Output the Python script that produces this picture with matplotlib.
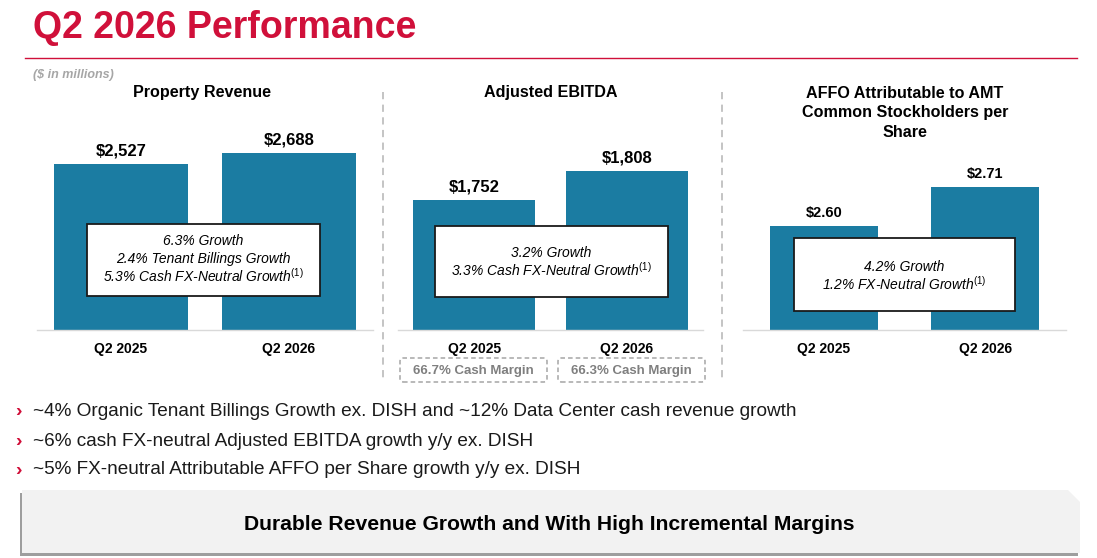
import matplotlib
matplotlib.use("Agg")
import matplotlib.pyplot as plt
from matplotlib.patches import Rectangle, FancyBboxPatch, Polygon
from matplotlib.lines import Line2D

plt.rcParams['font.family'] = ['Liberation Sans', 'DejaVu Sans']
plt.rcParams['mathtext.fontset'] = 'custom'
plt.rcParams['mathtext.rm'] = 'Liberation Sans'
plt.rcParams['mathtext.it'] = 'Liberation Sans:italic'
plt.rcParams['mathtext.bf'] = 'Liberation Sans:bold'

# ---------------- data ----------------
title = "Q2 2026 Performance"
units_note = "($ in millions)"
categories = ["Q2 2025", "Q2 2026"]
panel_titles = ["Property Revenue", "Adjusted EBITDA",
                "AFFO Attributable to AMT\nCommon Stockholders per\nShare"]
property_revenue = [2527, 2688]
adjusted_ebitda = [1752, 1808]
affo_per_share = [2.60, 2.71]
revenue_growth = ["6.3% Growth", "2.4% Tenant Billings Growth",
                  "5.3% Cash FX-Neutral Growth$^{(1)}$"]
ebitda_growth = ["3.2% Growth", "3.3% Cash FX-Neutral Growth$^{(1)}$"]
affo_growth = ["4.2% Growth", "1.2% FX-Neutral Growth$^{(1)}$"]
cash_margins = ["66.7% Cash Margin", "66.3% Cash Margin"]
bullets = ["~4% Organic Tenant Billings Growth ex. DISH and ~12% Data Center cash revenue growth",
           "~6% cash FX-neutral Adjusted EBITDA growth y/y ex. DISH",
           "~5% FX-neutral Attributable AFFO per Share growth y/y ex. DISH"]
banner = "Durable Revenue Growth and With High Incremental Margins"

# ---------------- style ----------------
W, H = 1097, 558
BAR = "#1B7CA2"
RED = "#D0103A"
GRID = "#D9D9D9"

fig = plt.figure(figsize=(W / 100, H / 100), dpi=100)
fig.patch.set_facecolor("white")
T = fig.dpi_scale_trans


def P(x, y):
    return (x / 100, (H - y) / 100)


def ftext(x, y, s, **kw):
    kw.setdefault("ha", "center")
    kw.setdefault("va", "center")
    return fig.text(*P(x, y), s, transform=T, **kw)


def add_axes(x0, x1, ytop, ybot):
    return fig.add_axes([x0 / W, 1 - ybot / H, (x1 - x0) / W, (ybot - ytop) / H])


# title + rule
ftext(33, 28, title, ha="left", fontsize=27, fontweight="bold", color=RED)
fig.add_artist(Line2D([25 / 100, 1077 / 100], [(H - 58) / 100] * 2, transform=T,
                      color=RED, lw=1.0))
ftext(33, 75, units_note, ha="left", fontsize=9, fontstyle="italic",
      fontweight="bold", color="#A6A6A6")

# panels
panels = [
    dict(vals=property_revenue, box=(37, 373), ylim=(0, 4110), width=0.8,
         fmt=lambda v: f"${v:,}", lsize=12, title_xy=(202, 92),
         gbox=(87, 320, 224, 296), glines=revenue_growth, gys=[241, 258.5, 276]),
    dict(vals=adjusted_ebitda, box=(398, 703), ylim=(1501, 2022), width=0.8,
         fmt=lambda v: f"${v:,}", lsize=12, title_xy=(551, 93),
         gbox=(435, 668, 226, 297), glines=ebitda_growth, gys=[253, 270]),
    dict(vals=affo_per_share, box=(743, 1066), ylim=(2.307, 3.069), width=0.67,
         fmt=lambda v: f"${v:.2f}", lsize=10.5, title_xy=(905, 113),
         gbox=(794, 1015, 238, 311), glines=affo_growth, gys=[267, 284]),
]

for i, p in enumerate(panels):
    ax = add_axes(p["box"][0], p["box"][1], 60, 330)
    ax.bar(range(len(categories)), [v - p["ylim"][0] for v in p["vals"]],
           bottom=p["ylim"][0], width=p["width"], color=BAR)
    ax.set_xlim(-0.5, 1.5)
    ax.set_ylim(*p["ylim"])
    for s in ("top", "right", "left"):
        ax.spines[s].set_visible(False)
    ax.spines["bottom"].set_color(GRID)
    ax.spines["bottom"].set_linewidth(1.0)
    ax.set_yticks([])
    ax.set_xticks(range(len(categories)))
    ax.set_xticklabels(categories, fontsize=10, fontweight="bold")
    ax.tick_params(axis="x", length=0, pad=9)
    ax.patch.set_alpha(0)
    for j, v in enumerate(p["vals"]):
        ax.annotate(p["fmt"](v), xy=(j, v), xytext=(0, 9.5), textcoords="offset points",
                    ha="center", va="center", fontsize=p["lsize"], fontweight="bold")
    # panel title
    ftext(*p["title_xy"], panel_titles[i], fontsize=11.6, fontweight="bold",
          linespacing=1.4)
    # growth box
    x0, x1, y0, y1 = p["gbox"]
    fig.add_artist(Rectangle(P(x0, y1), (x1 - x0) / 100, (y1 - y0) / 100, transform=T,
                             facecolor="white", edgecolor="#1A1A1A", lw=1.3, zorder=5))
    cx = (x0 + x1) / 2
    for line, yy in zip(p["glines"], p["gys"]):
        ftext(cx, yy, line, fontsize=10, fontstyle="italic", zorder=6)

# dashed separators
for xs in (383, 722):
    fig.add_artist(Line2D([xs / 100] * 2, [(H - 92) / 100, (H - 380) / 100], transform=T,
                          color="#BFBFBF", lw=1.3, ls=(0, (4, 3))))

# cash margin boxes
for (x0, x1), txt in zip([(400, 547), (558, 705)], cash_margins):
    fig.add_artist(FancyBboxPatch(P(x0 + 2, 380), (x1 - x0 - 4) / 100, 20 / 100,
                                  boxstyle="round,pad=0.02,rounding_size=0.03",
                                  transform=T, facecolor="white", edgecolor="#A6A6A6",
                                  lw=1.1, ls=(0, (3, 2))))
    ftext((x0 + x1) / 2, 371, txt, fontsize=9.5, fontweight="bold", color="#7F7F7F")

# bullets
for b, yy in zip(bullets, [411, 441, 470]):
    ftext(18, yy - 1.5, "\u203a", fontsize=14, fontweight="bold", color=RED,
          va="center_baseline")
    ftext(33, yy, b, ha="left", fontsize=13.65, color="#1A1A1A")

# banner with shadow and clipped corner
def banner_pts(dx, dy):
    pts = [(22, 490), (1068, 490), (1080, 502), (1080, 553), (22, 553)]
    return [P(x + dx, y + dy) for x, y in pts]

fig.add_artist(Polygon(banner_pts(-2, 3), closed=True, transform=T,
                       facecolor="#9E9E9E", edgecolor="none"))
fig.add_artist(Polygon(banner_pts(0, 0), closed=True, transform=T,
                       facecolor="#F2F2F2", edgecolor="none"))
ftext(549, 524, banner, fontsize=15.2, fontweight="bold", color="black")

fig.savefig("out.png", dpi=100, facecolor="white")
